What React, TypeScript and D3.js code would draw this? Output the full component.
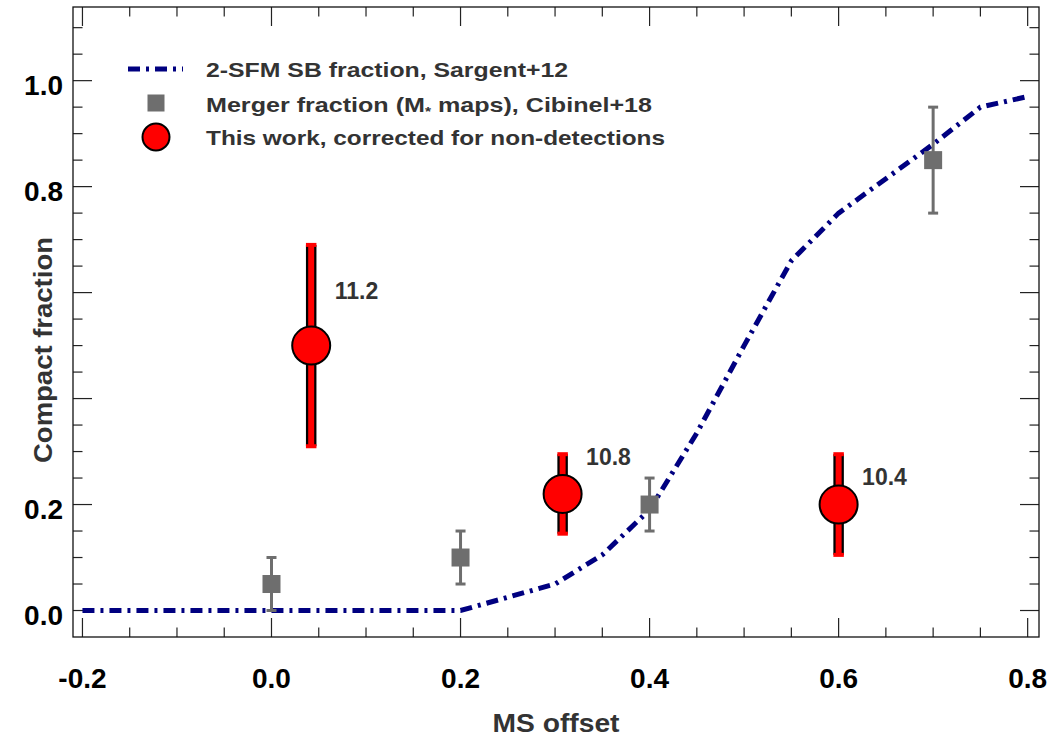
import * as d3 from "d3";

// Sargent+12 2-SFM starburst fraction curve
const sbX = [-0.2, 0.2, 0.25, 0.3, 0.35, 0.4, 0.45, 0.5, 0.55, 0.6, 0.65, 0.7, 0.75, 0.8];
const sbY = [0.0, 0.0, 0.025, 0.05, 0.105, 0.19, 0.335, 0.5, 0.66, 0.75, 0.815, 0.88, 0.95, 0.97];

// Cibinel+18 merger fraction
const mergerX = [0.0, 0.2, 0.4, 0.7];
const mergerY = [0.05, 0.1, 0.2, 0.85];
const mergerErr = [0.05, 0.05, 0.05, 0.1];

// this work
const workX = [0.042, 0.308, 0.6];
const workY = [0.5, 0.22, 0.2];
const workLo = [0.31, 0.145, 0.105];
const workHi = [0.69, 0.295, 0.295];
const workLabels = ["11.2", "10.8", "10.4"];
const workLabelY = [0.588, 0.275, 0.237];

const xTickVals = [-0.2, 0.0, 0.2, 0.4, 0.6, 0.8];
const xTickLabels = ["-0.2", "0.0", "0.2", "0.4", "0.6", "0.8"];
const yTickVals = [0.0, 0.2, 0.4, 0.6, 0.8, 1.0];
const yTickLabels = ["0.0", "0.2", "", "", "0.8", "1.0"];

const legendLabels = [
  "2-SFM SB fraction, Sargent+12",
  "Merger fraction (M",
  "This work, corrected for non-detections",
];

const W = 1050;
const H = 750;
const FONT = "'Liberation Sans', Arial, Helvetica, sans-serif";
const NAVY = "#000080";
const GREY = "#6e6e6e";
const TXT = "#333";

export default function App() {
  const x = d3.scaleLinear().domain([-0.21, 0.812]).range([73, 1039]);
  const y = d3.scaleLinear().domain([-0.05, 1.139]).range([637, 7]);
  const [x0, x1] = x.range();
  const [y0, y1] = y.range();

  const minorX = d3.range(-4, 17).map((i) => i * 0.05);
  const minorY = d3.range(-0, 23).map((i) => i * 0.05);
  const isMajor = (v: number) => Math.abs(v / 0.2 - Math.round(v / 0.2)) < 1e-6;

  const line = d3
    .line<number>()
    .x((_, i) => x(sbX[i]))
    .y((d) => y(d));

  const legendRow = [69, 103, 137];

  return (
    <svg
      width={W}
      height={H}
      style={{ position: "absolute", left: 0, top: 0, background: "#fff" }}
      fontFamily={FONT}
    >
      <rect width={W} height={H} fill="#fff" />

      {/* ticks, all four sides, inward */}
      <g stroke="#222" strokeWidth={1.2}>
        {minorX.map((v, i) => {
          const len = isMajor(v) ? 19 : 9.5;
          return (
            <g key={"xt" + i}>
              <line x1={x(v)} x2={x(v)} y1={y0} y2={y0 - len} />
              <line x1={x(v)} x2={x(v)} y1={y1} y2={y1 + len} />
            </g>
          );
        })}
        {minorY.map((v, i) => {
          const len = isMajor(v) ? 19 : 9.5;
          return (
            <g key={"yt" + i}>
              <line x1={x0} x2={x0 + len} y1={y(v)} y2={y(v)} />
              <line x1={x1} x2={x1 - len} y1={y(v)} y2={y(v)} />
            </g>
          );
        })}
      </g>
      <rect x={x0} y={y1} width={x1 - x0} height={y0 - y1} fill="none" stroke="#111" strokeWidth={1.3} />

      {/* tick labels */}
      <g fontSize={28} fontWeight="bold" fill="#000">
        {xTickVals.map((v, i) => (
          <text key={"xl" + i} x={x(v)} y={688} textAnchor="middle">
            {xTickLabels[i]}
          </text>
        ))}
        {yTickVals.map((v, i) => (
          <text key={"yl" + i} x={63} y={y(v) + 14} textAnchor="end">
            {yTickLabels[i]}
          </text>
        ))}
      </g>

      {/* axis titles */}
      <text x={556} y={732} textAnchor="middle" fontSize={25} fontWeight="bold" fill={TXT} textLength={127} lengthAdjust="spacingAndGlyphs">
        MS offset
      </text>
      <text
        transform="translate(52,350) rotate(-90)"
        textAnchor="middle"
        fontSize={25}
        fontWeight="bold"
        fill={TXT}
        textLength={226}
        lengthAdjust="spacingAndGlyphs"
      >
        Compact fraction
      </text>

      {/* model curve */}
      <path d={line(sbY) ?? ""} fill="none" stroke={NAVY} strokeWidth={5} strokeDasharray="12,6,3,6" />

      {/* merger fraction */}
      <g>
        {mergerX.map((v, i) => (
          <g key={"m" + i}>
            <line x1={x(v)} x2={x(v)} y1={y(mergerY[i] - mergerErr[i])} y2={y(mergerY[i] + mergerErr[i])} stroke={GREY} strokeWidth={3} />
            <line x1={x(v) - 5} x2={x(v) + 5} y1={y(mergerY[i] - mergerErr[i])} y2={y(mergerY[i] - mergerErr[i])} stroke={GREY} strokeWidth={3} />
            <line x1={x(v) - 5} x2={x(v) + 5} y1={y(mergerY[i] + mergerErr[i])} y2={y(mergerY[i] + mergerErr[i])} stroke={GREY} strokeWidth={3} />
            <rect x={x(v) - 9} y={y(mergerY[i]) - 9} width={18} height={18} fill={GREY} />
          </g>
        ))}
      </g>

      {/* this work */}
      <g>
        {workX.map((v, i) => (
          <g key={"w" + i}>
            <line x1={x(v)} x2={x(v)} y1={y(workLo[i])} y2={y(workHi[i])} stroke="#000" strokeWidth={10.5} />
            <line x1={x(v)} x2={x(v)} y1={y(workLo[i])} y2={y(workHi[i])} stroke="#f00" strokeWidth={6} />
            <rect x={x(v) - 5.25} y={y(workHi[i]) - 2} width={10.5} height={4} fill="#f00" />
            <rect x={x(v) - 5.25} y={y(workLo[i]) - 2} width={10.5} height={4} fill="#f00" />
            <circle cx={x(v)} cy={y(workY[i])} r={19} fill="#f00" stroke="#000" strokeWidth={2} />
            <text x={x(v) + 23.5} y={y(workLabelY[i])} fontSize={23} fontWeight="bold" fill={TXT}>
              {workLabels[i]}
            </text>
          </g>
        ))}
      </g>

      {/* legend */}
      <g>
        <line x1={128} x2={183} y1={legendRow[0]} y2={legendRow[0]} stroke={NAVY} strokeWidth={5} strokeDasharray="12,6,3,6" />
        <rect x={147.5} y={legendRow[1] - 8.5} width={17} height={17} fill={GREY} />
        <circle cx={156} cy={legendRow[2]} r={13.5} fill="#f00" stroke="#000" strokeWidth={2} />
        <g fontSize={21} fontWeight="bold" fill={TXT}>
          <text x={206} y={legendRow[0] + 8} textLength={362} lengthAdjust="spacingAndGlyphs">
            {legendLabels[0]}
          </text>
          <text x={206} y={legendRow[1] + 9} textLength={446} lengthAdjust="spacingAndGlyphs">
            {legendLabels[1]}
            <tspan fontSize={13} dy={4}>*</tspan>
            <tspan dy={-4}> maps), Cibinel+18</tspan>
          </text>
          <text x={206} y={legendRow[2] + 8} textLength={459} lengthAdjust="spacingAndGlyphs">
            {legendLabels[2]}
          </text>
        </g>
      </g>
    </svg>
  );
}
